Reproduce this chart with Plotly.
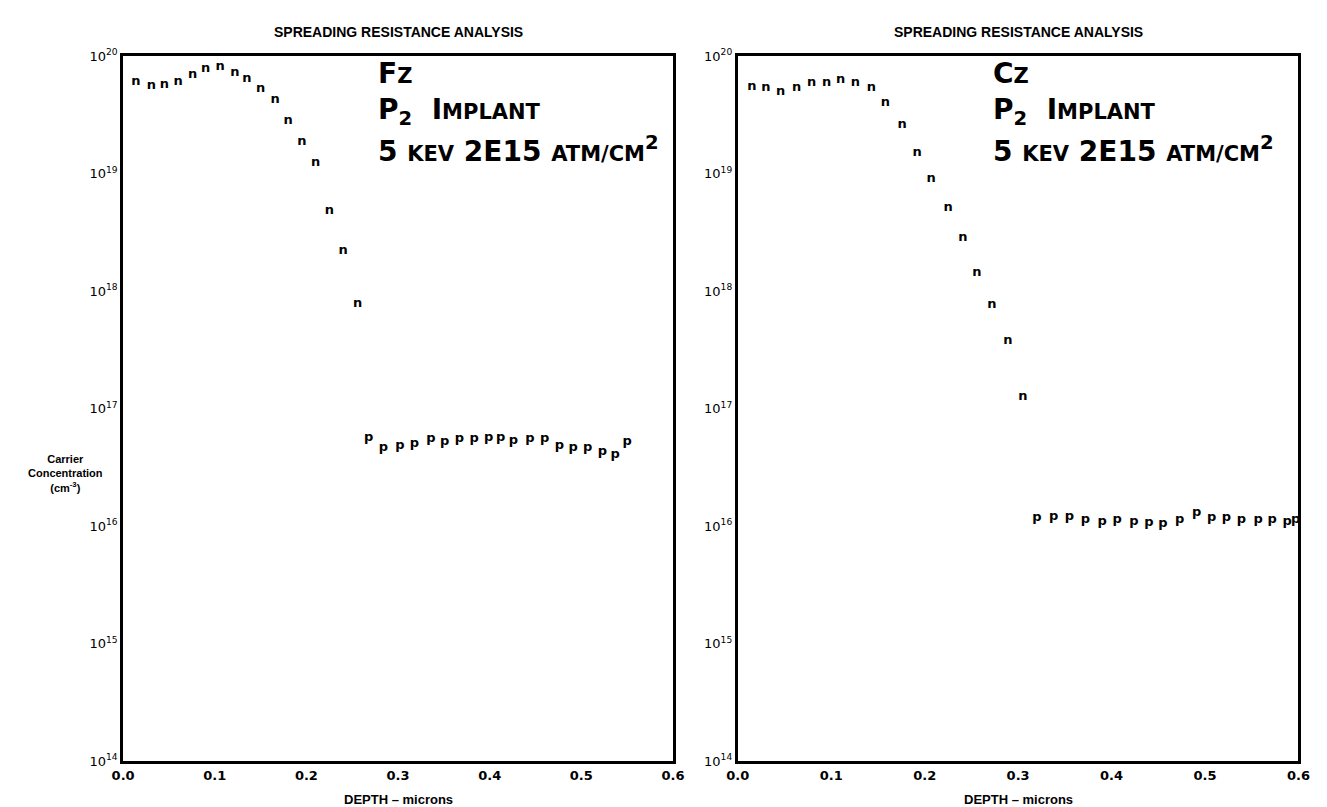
import plotly.graph_objects as go

# ---------------- data ----------------
# Fz sample (left panel): depth (microns), log10 carrier concentration (cm^-3)
fz_n_depth = [0.014, 0.031, 0.045, 0.060, 0.076, 0.090, 0.106, 0.122, 0.135, 0.150,
              0.166, 0.180, 0.195, 0.210, 0.225, 0.240, 0.256]
fz_n_logc = [19.78, 19.75, 19.76, 19.78, 19.84, 19.89, 19.91, 19.86, 19.81, 19.72,
             19.63, 19.45, 19.27, 19.09, 18.68, 18.34, 17.89]
fz_p_depth = [0.268, 0.284, 0.302, 0.318, 0.336, 0.351, 0.367, 0.383, 0.399, 0.412,
              0.426, 0.444, 0.460, 0.476, 0.491, 0.507, 0.523, 0.537, 0.550]
fz_p_logc = [16.75, 16.67, 16.68, 16.70, 16.74, 16.72, 16.74, 16.74, 16.75, 16.75,
             16.73, 16.74, 16.74, 16.68, 16.67, 16.67, 16.63, 16.61, 16.72]

# Cz sample (right panel)
cz_n_depth = [0.015, 0.030, 0.046, 0.063, 0.079, 0.095, 0.110, 0.126, 0.143, 0.158,
              0.176, 0.192, 0.207, 0.225, 0.241, 0.256, 0.272, 0.289, 0.305]
cz_n_logc = [19.74, 19.73, 19.70, 19.73, 19.77, 19.77, 19.80, 19.77, 19.73, 19.60,
             19.42, 19.18, 18.96, 18.71, 18.45, 18.16, 17.88, 17.58, 17.10]
cz_p_depth = [0.320, 0.338, 0.355, 0.372, 0.390, 0.406, 0.424, 0.440, 0.455, 0.473,
              0.491, 0.507, 0.523, 0.539, 0.557, 0.572, 0.588, 0.597]
cz_p_logc = [16.07, 16.08, 16.08, 16.05, 16.04, 16.05, 16.04, 16.03, 16.02, 16.05,
             16.11, 16.07, 16.07, 16.05, 16.05, 16.05, 16.04, 16.05]

x_ticks = [0.0, 0.1, 0.2, 0.3, 0.4, 0.5, 0.6]
x_ticktext = ["0.0", "0.1", "0.2", "0.3", "0.4", "0.5", "0.6"]
y_decades = [14, 15, 16, 17, 18, 19, 20]

title_text = "SPREADING RESISTANCE ANALYSIS"
x_title = "DEPTH \u2013 microns"
y_title = "Carrier<br>Concentration<br>(cm<sup>-3</sup>)"
sample_names = ["F", "C"]

# ---------------- layout geometry ----------------
W, H = 1327, 807
top_px, bot_px = 40, 760
left_dom = (105, 665)
right_dom = (731, 1302)

def fx(px):
    return px / W

def fy(py):
    return 1 - py / H

fig = go.Figure()

glyph_font = dict(family="DejaVu Sans, Arial", size=13, color="black")

def add_series(depth, logc, glyph, xa, ya):
    fig.add_trace(go.Scatter(
        x=depth, y=[10.0 ** v for v in logc], mode="text",
        text=[glyph] * len(depth), textposition="middle center",
        textfont=glyph_font, xaxis=xa, yaxis=ya, showlegend=False,
        hoverinfo="x+y"))

add_series(fz_n_depth, fz_n_logc, "<b>n</b>", "x", "y")
add_series(fz_p_depth, fz_p_logc, "<b>p</b>", "x", "y")
add_series(cz_n_depth, cz_n_logc, "<b>n</b>", "x2", "y2")
add_series(cz_p_depth, cz_p_logc, "<b>p</b>", "x2", "y2")

ytick_font = dict(family="DejaVu Sans, Arial", size=13, color="black")
xtick_font = dict(family="DejaVu Sans, Arial", size=13, color="black")
ytext = ["10<sup>%d</sup>" % d for d in y_decades]
yvals = [10.0 ** d for d in y_decades]
xtext = ["<b>%s</b>" % t for t in x_ticktext]

axis_common = dict(showline=True, linewidth=3, linecolor="black", mirror=True,
                   showgrid=False, zeroline=False, ticks="")

fig.update_layout(
    width=W, height=H, margin=dict(l=0, r=0, t=0, b=0),
    paper_bgcolor="white", plot_bgcolor="white", showlegend=False,
    xaxis=dict(domain=[fx(left_dom[0]), fx(left_dom[1])], range=[0, 0.6],
               tickvals=x_ticks, ticktext=xtext, anchor="y", tickfont=xtick_font, **axis_common),
    yaxis=dict(domain=[fy(bot_px), fy(top_px)], type="log", range=[14, 20],
               tickvals=yvals, ticktext=ytext, anchor="x", tickfont=ytick_font, **axis_common),
    xaxis2=dict(domain=[fx(right_dom[0]), fx(right_dom[1])], range=[0, 0.6],
                tickvals=x_ticks, ticktext=xtext, anchor="y2", tickfont=xtick_font, **axis_common),
    yaxis2=dict(domain=[fy(bot_px), fy(top_px)], type="log", range=[14, 20],
                tickvals=yvals, ticktext=ytext, anchor="x2", tickfont=ytick_font, **axis_common),
)

label_font = dict(family="DejaVu Sans, Arial", size=28, color="black")
sm = "<span style='font-size:21px'>%s</span>"

annos = []
for (dom, name) in [(left_dom, sample_names[0]), (right_dom, sample_names[1])]:
    cx = fx((dom[0] + dom[1]) / 2)
    annos.append(dict(x=cx, y=fy(15), xref="paper", yref="paper", text="<b>%s</b>" % title_text,
                      showarrow=False, xanchor="center", yanchor="middle",
                      font=dict(family="Liberation Sans, Arial", size=14, color="black")))
    annos.append(dict(x=cx, y=fy(799), xref="paper", yref="paper", text="<b>%s</b>" % x_title,
                      showarrow=False, xanchor="center", yanchor="middle",
                      font=dict(family="Liberation Sans, Arial", size=13, color="black")))
    tx = fx(dom[0] + 258)
    lines = ["<b>" + name + sm % "Z" + "</b>",
             "<b>P<sub>2</sub>  I" + sm % "MPLANT" + "</b>",
             "<b>5 " + sm % "KEV" + " 2E15 " + sm % "ATM/CM" + "<sup>2</sup></b>"]
    for i, ln in enumerate(lines):
        annos.append(dict(x=tx, y=fy([58, 97, 135][i]), xref="paper", yref="paper", text=ln,
                          showarrow=False, xanchor="left", yanchor="middle", font=label_font))

annos.append(dict(x=fx(46), y=fy(466), xref="paper", yref="paper", text="<b>%s</b>" % y_title,
                  showarrow=False, xanchor="center", yanchor="middle",
                  font=dict(family="Liberation Sans, Arial", size=11, color="black")))
fig.update_layout(annotations=annos)

fig.write_html("out.html")
